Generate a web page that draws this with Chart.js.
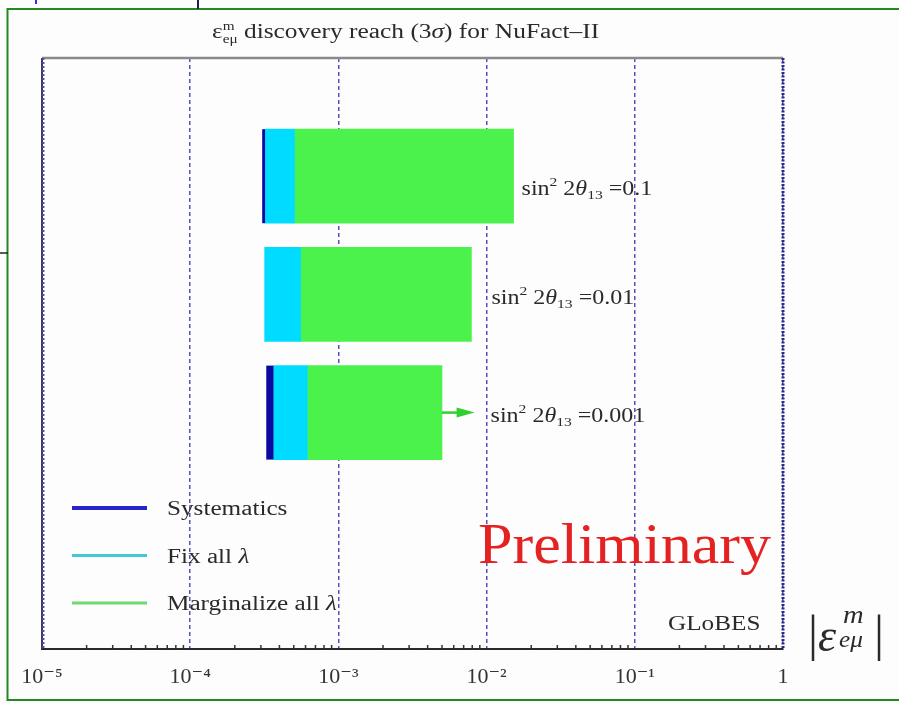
<!DOCTYPE html>
<html><head><meta charset="utf-8">
<script src="https://cdn.jsdelivr.net/npm/chart.js@4/dist/chart.umd.min.js"></script>
<style>html,body{margin:0;padding:0;background:#fff;}canvas{display:block;}</style>
</head><body>
<canvas id="c" width="899" height="704"></canvas>
<script>
// ---- data ----
const mixingValues = ['0.1', '0.01', '0.001'];        // sin^2 2theta13
const rowIndex = [1, 2, 3];                            // row of each bar
const reachStart = [3.06e-4, 3.18e-4, 3.26e-4];       // left edge of reach
const systematics = [3.20e-4, 3.18e-4, 3.65e-4];      // systematics limit
const fixAll = [5.06e-4, 5.56e-4, 6.17e-4];           // fix all lambda
const marginalizeAll = [1.52e-2, 7.9e-3, 5.0e-3];     // marginalize all lambda
const arrowTo = [null, null, 8.3e-3];                  // arrow end (extension)
const seriesNames = ['Systematics', 'Fix all \u03bb', 'Marginalize all \u03bb'];
const tickValues = [1e-5, 1e-4, 1e-3, 1e-2, 1e-1, 1];
const tickLabels = ['10\u207b\u2075', '10\u207b\u2074', '10\u207b\u00b3', '10\u207b\u00b2', '10\u207b\u00b9', '1'];

// ---- styles ----
const SERIF = '"Liberation Serif", "DejaVu Serif", serif';
const barColors = ['#0a0aa0', '#00dcff', '#4cf24c'];
const legendColors = ['#2525c8', '#40c8d8', '#70d870'];
const TEXT = '#2a2a2a';

function rich(ctx, segs, x, y, sx, color) {
  ctx.save();
  ctx.fillStyle = color || TEXT;
  ctx.textBaseline = 'alphabetic';
  ctx.textAlign = 'left';
  segs.forEach(s => { ctx.font = (s.style || '') + ' ' + s.size + 'px ' + SERIF; s.w = ctx.measureText(s.t).width; });
  ctx.translate(x, y);
  ctx.scale(sx, 1);
  let cx = 0, pend = 0;
  segs.forEach(s => {
    ctx.font = (s.style || '') + ' ' + s.size + 'px ' + SERIF;
    ctx.fillText(s.t, cx, s.dy || 0);
    if (s.adv === false) { pend = s.w; }
    else { cx += Math.max(s.w, pend); pend = 0; }
  });
  ctx.restore();
}

function ranges(a, b) { return rowIndex.map((r, i) => ({ y: r, x: a[i] === b[i] ? null : [a[i], b[i]] })); }

const decor = {
  id: 'decor',
  beforeDraw(chart) {
    const ctx = chart.ctx;
    ctx.save();
    ctx.fillStyle = '#fdfdfd';
    ctx.fillRect(0, 0, chart.width, chart.height);
    ctx.restore();
  },
  afterDatasetsDraw(chart) {
    const ctx = chart.ctx;
    const xs = chart.scales.x, ys = chart.scales.y;
    // arrows
    arrowTo.forEach((v, i) => {
      if (v == null) return;
      const x0 = xs.getPixelForValue(marginalizeAll[i]);
      const x1 = xs.getPixelForValue(v);
      const y = ys.getPixelForValue(rowIndex[i]);
      ctx.save();
      ctx.strokeStyle = '#30d030'; ctx.fillStyle = '#30d030'; ctx.lineWidth = 2.5;
      ctx.beginPath(); ctx.moveTo(x0, y); ctx.lineTo(x1 - 14, y); ctx.stroke();
      ctx.beginPath(); ctx.moveTo(x1, y); ctx.lineTo(x1 - 18, y - 5); ctx.lineTo(x1 - 18, y + 5); ctx.closePath(); ctx.fill();
      ctx.restore();
    });
    // row labels
    const gaps = [8, 20, 16], dys = [19, 10, 9];
    mixingValues.forEach((m, i) => {
      const end = arrowTo[i] != null ? xs.getPixelForValue(arrowTo[i]) : xs.getPixelForValue(marginalizeAll[i]);
      const y = ys.getPixelForValue(rowIndex[i]);
      rich(ctx, [
        { t: 'sin', size: 20 }, { t: '2', size: 13, dy: -9 }, { t: ' 2', size: 20 },
        { t: '\u03b8', size: 20, style: 'italic' }, { t: '13', size: 13, dy: 4 }, { t: ' =' + m, size: 20 }
      ], end + gaps[i], y + dys[i], 1.2);
    });
  },
  afterDraw(chart) {
    const ctx = chart.ctx;
    const a = chart.chartArea;
    const xs = chart.scales.x;
    ctx.save();
    // minor ticks on bottom axis
    ctx.strokeStyle = '#333'; ctx.lineWidth = 1.5;
    for (let e = -5; e < 0; e++) {
      for (let k = 2; k <= 9; k++) {
        const px = xs.getPixelForValue(k * Math.pow(10, e));
        ctx.beginPath(); ctx.moveTo(px, a.bottom); ctx.lineTo(px, a.bottom - 4); ctx.stroke();
      }
    }
    // top border
    ctx.strokeStyle = '#8a8a8a'; ctx.lineWidth = 2.5;
    ctx.beginPath(); ctx.moveTo(a.left, a.top); ctx.lineTo(a.right, a.top); ctx.stroke();
    // left border
    ctx.strokeStyle = '#3a3a70'; ctx.lineWidth = 2;
    ctx.beginPath(); ctx.moveTo(a.left, a.top); ctx.lineTo(a.left, a.bottom); ctx.stroke();
    ctx.setLineDash([2, 2]); ctx.lineWidth = 2; ctx.strokeStyle = '#5a5a9a';
    ctx.beginPath(); ctx.moveTo(a.left + 1.5, a.top); ctx.lineTo(a.left + 1.5, a.bottom); ctx.stroke();
    // right border
    ctx.setLineDash([2, 1.5]); ctx.strokeStyle = '#2a2a80'; ctx.lineWidth = 3;
    ctx.beginPath(); ctx.moveTo(a.right, a.top); ctx.lineTo(a.right, a.bottom); ctx.stroke();
    ctx.setLineDash([]);
    // outer green frame
    ctx.strokeStyle = '#238a23'; ctx.lineWidth = 2;
    ctx.beginPath(); ctx.moveTo(905, 9); ctx.lineTo(7.5, 9); ctx.lineTo(7.5, 700); ctx.lineTo(905, 700); ctx.stroke();
    // stray marks
    ctx.strokeStyle = '#3030e0'; ctx.lineWidth = 2;
    ctx.beginPath(); ctx.moveTo(36, 0); ctx.lineTo(36, 4); ctx.stroke();
    ctx.strokeStyle = '#202050';
    ctx.beginPath(); ctx.moveTo(198, 0); ctx.lineTo(198, 9); ctx.stroke();
    ctx.strokeStyle = '#222'; ctx.lineWidth = 1.5;
    ctx.beginPath(); ctx.moveTo(0, 253); ctx.lineTo(8, 253); ctx.stroke();
    // legend
    seriesNames.forEach((n, i) => {
      const y = 508 + i * 47.5;
      ctx.strokeStyle = legendColors[i]; ctx.lineWidth = i === 0 ? 4 : 3;
      ctx.beginPath(); ctx.moveTo(72, y); ctx.lineTo(147, y); ctx.stroke();
      const parts = n.split('\u03bb');
      const segs = [{ t: parts[0], size: 20 }];
      if (parts.length > 1) segs.push({ t: '\u03bb', size: 20, style: 'italic' });
      rich(ctx, segs, 167, y + 7, 1.26);
    });
    ctx.restore();
    // title
    rich(ctx, [
      { t: '\u03b5', size: 20 }, { t: 'm', size: 12, dy: -8, adv: false }, { t: 'e\u03bc', size: 12, dy: 5 },
      { t: ' discovery reach (3', size: 20 }, { t: '\u03c3', size: 20, style: 'italic' }, { t: ') for NuFact\u2013II', size: 20 }
    ], 212, 38, 1.27);
    // Preliminary
    rich(ctx, [{ t: 'Preliminary', size: 58 }], 478, 563, 1.07, '#e52222');
    // GLoBES
    rich(ctx, [{ t: 'GLoBES', size: 21 }], 668, 630, 1.2);
    // axis title |eps^m_emu|
    rich(ctx, [{ t: '|', size: 50 }], 808, 650, 1.0);
    rich(ctx, [{ t: '\u03b5', size: 46, style: 'italic' }], 818, 651, 1.0);
    rich(ctx, [{ t: 'm', size: 26, style: 'italic' }], 843, 623, 1.1);
    rich(ctx, [{ t: 'e\u03bc', size: 23, style: 'italic' }], 839, 647, 1.1);
    rich(ctx, [{ t: '|', size: 50 }], 874, 650, 1.0);
  }
};

new Chart(document.getElementById('c'), {
  type: 'bar',
  data: {
    datasets: [
      { label: seriesNames[0], data: ranges(reachStart, systematics), backgroundColor: barColors[0], inflateAmount: 0 },
      { label: seriesNames[1], data: ranges(systematics, fixAll), backgroundColor: barColors[1] },
      { label: seriesNames[2], data: ranges(fixAll, marginalizeAll), backgroundColor: barColors[2] }
    ]
  },
  options: {
    indexAxis: 'y',
    responsive: false,
    devicePixelRatio: 1,
    animation: false,
    datasets: { bar: { grouped: false, barThickness: 94, borderWidth: 0 } },
    layout: { padding: { left: 42, right: 116, top: 58, bottom: 15 } },
    plugins: { legend: { display: false }, tooltip: { enabled: false }, title: { display: false } },
    scales: {
      x: {
        type: 'logarithmic', min: 1e-5, max: 1, position: 'bottom',
        afterBuildTicks: (s) => { s.ticks = tickValues.map(v => ({ value: v, major: true })); },
        afterFit: (s) => { s.height = 40; },
        grid: { color: '#5252c0', lineWidth: 1.5, drawTicks: false },
        border: { display: true, color: '#2a2a2a', width: 2, dash: [4, 3] },
        ticks: {
          autoSkip: false, maxRotation: 0, padding: 15, color: '#333',
          font: { family: SERIF, size: 22 },
          callback: (v, i) => tickLabels[i]
        }
      },
      y: { type: 'linear', min: 0, max: 5, reverse: true, display: false, offset: false, grid: { offset: false } }
    }
  },
  plugins: [decor]
});
</script>
</body></html>
